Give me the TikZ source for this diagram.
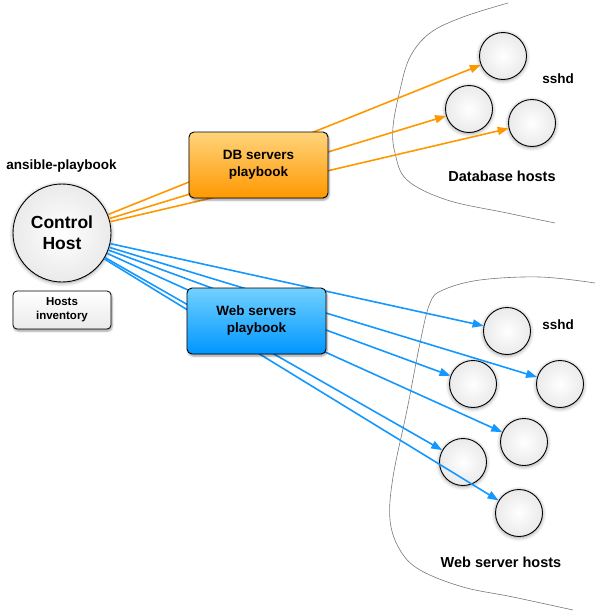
\documentclass[tikz,border=0pt]{standalone}
\usepackage{fontspec}
\setmainfont{Liberation Sans}
\usetikzlibrary{arrows.meta,shadows.blur}
\definecolor{dborange}{RGB}{255,152,0}
\definecolor{dborangetop}{RGB}{255,212,124}
\definecolor{webblue}{RGB}{20,152,255}
\definecolor{webbluetop}{RGB}{114,209,255}
\definecolor{webbluebot}{RGB}{0,150,255}
\definecolor{hostgray}{RGB}{234,234,234}
\definecolor{edgegray}{RGB}{120,120,120}
\tikzset{
  lbl/.style={font=\bfseries\fontsize{13.5}{17}\selectfont, align=center, inner sep=0pt},
  host/.style={circle, draw=black, line width=0.9pt, minimum size=47pt, inner sep=0pt,
    inner color=white, outer color=hostgray,
    blur shadow={shadow xshift=0pt, shadow yshift=-1pt, shadow blur steps=8, shadow blur radius=4pt, shadow opacity=40}},
  ctrlhost/.style={host, minimum size=98pt, font=\bfseries\fontsize{17.5}{21}\selectfont, align=center},
  pbox/.style={rectangle, rounded corners=5pt, draw=black, line width=0.9pt,
    minimum width=139pt, minimum height=66pt, inner sep=0pt, align=center,
    font=\bfseries\fontsize{13.5}{17}\selectfont,
    blur shadow={shadow xshift=1pt, shadow yshift=-2pt, shadow blur steps=5, shadow blur radius=2pt, shadow opacity=40}},
  dbbox/.style={pbox, top color=dborangetop, bottom color=dborange},
  webbox/.style={pbox, top color=webbluetop, bottom color=webbluebot},
  invbox/.style={rectangle, rounded corners=4pt, draw=black, line width=0.8pt,
    minimum width=98pt, minimum height=38pt, inner sep=0pt, align=center,
    top color=white, bottom color=hostgray,
    font=\bfseries\fontsize{11.5}{14}\selectfont,
    blur shadow={shadow xshift=1pt, shadow yshift=-2pt, shadow blur steps=5, shadow blur radius=2pt, shadow opacity=40}},
  dbarrow/.style={draw=dborange, line width=1.6pt, -{Triangle[length=11pt,width=8pt]}},
  webarrow/.style={draw=webblue, line width=1.6pt, -{Triangle[length=11pt,width=8pt]}},
  zone/.style={draw=edgegray, line width=0.6pt}
}
\begin{document}
\begin{tikzpicture}[x=1pt,y=-1pt]
\useasboundingbox (0,0) rectangle (597,613);
% zone boundaries
\draw[zone] plot[smooth, tension=0.6] coordinates {(508,3) (463,17) (430,33) (410,57) (400,90) (393,127) (395,153) (407,180) (447,200) (507,213) (555,223)};
\draw[zone] plot[smooth, tension=0.6] coordinates {(595,283) (540,277) (480,280) (443,290) (430,303) (420,343) (407,410) (393,477) (390,520) (400,550) (420,570) (463,587) (513,597) (573,610)};
% hosts
\node[host] (d1) at (503,56) {};
\node[host] (d2) at (469,109) {};
\node[host] (d3) at (532,123) {};
\node[host] (w1) at (507,331) {};
\node[host] (w2) at (473,384) {};
\node[host] (w3) at (560,384) {};
\node[host] (w4) at (524,442) {};
\node[host] (w5) at (463,462) {};
\node[host] (w6) at (519,513) {};
% control host
\node[ctrlhost] (ctrl) at (62,233) {Control\\Host};
% labels
\node[lbl] (apb) at (61.5,166) {ansible-playbook};
\node[lbl] (sshd1) at (558,79) {sshd};
\node[lbl] (sshd2) at (558,325) {sshd};
\node[lbl, font=\bfseries\fontsize{14.5}{17}\selectfont] (dbh) at (502,176) {Database hosts};
\node[lbl, font=\bfseries\fontsize{14.5}{17}\selectfont] (webh) at (501,562) {Web server hosts};
% connectors
\draw[dbarrow] (ctrl) -- (d1);
\draw[dbarrow] (ctrl) -- (d2);
\draw[dbarrow] (ctrl) -- (d3);
\draw[webarrow] (ctrl) -- (w1);
\draw[webarrow] (ctrl) -- (w2);
\draw[webarrow] (ctrl) -- (w3);
\draw[webarrow] (ctrl) -- (w4);
\draw[webarrow] (ctrl) -- (w5);
\draw[webarrow] (ctrl) -- (w6);
% boxes on top
\node[dbbox] (dbpb) at (258.5,165) {DB servers\\playbook};
\node[webbox] (webpb) at (256.5,321) {Web servers\\playbook};
\node[invbox] (inv) at (62,310) {Hosts\\inventory};
\end{tikzpicture}
\end{document}
